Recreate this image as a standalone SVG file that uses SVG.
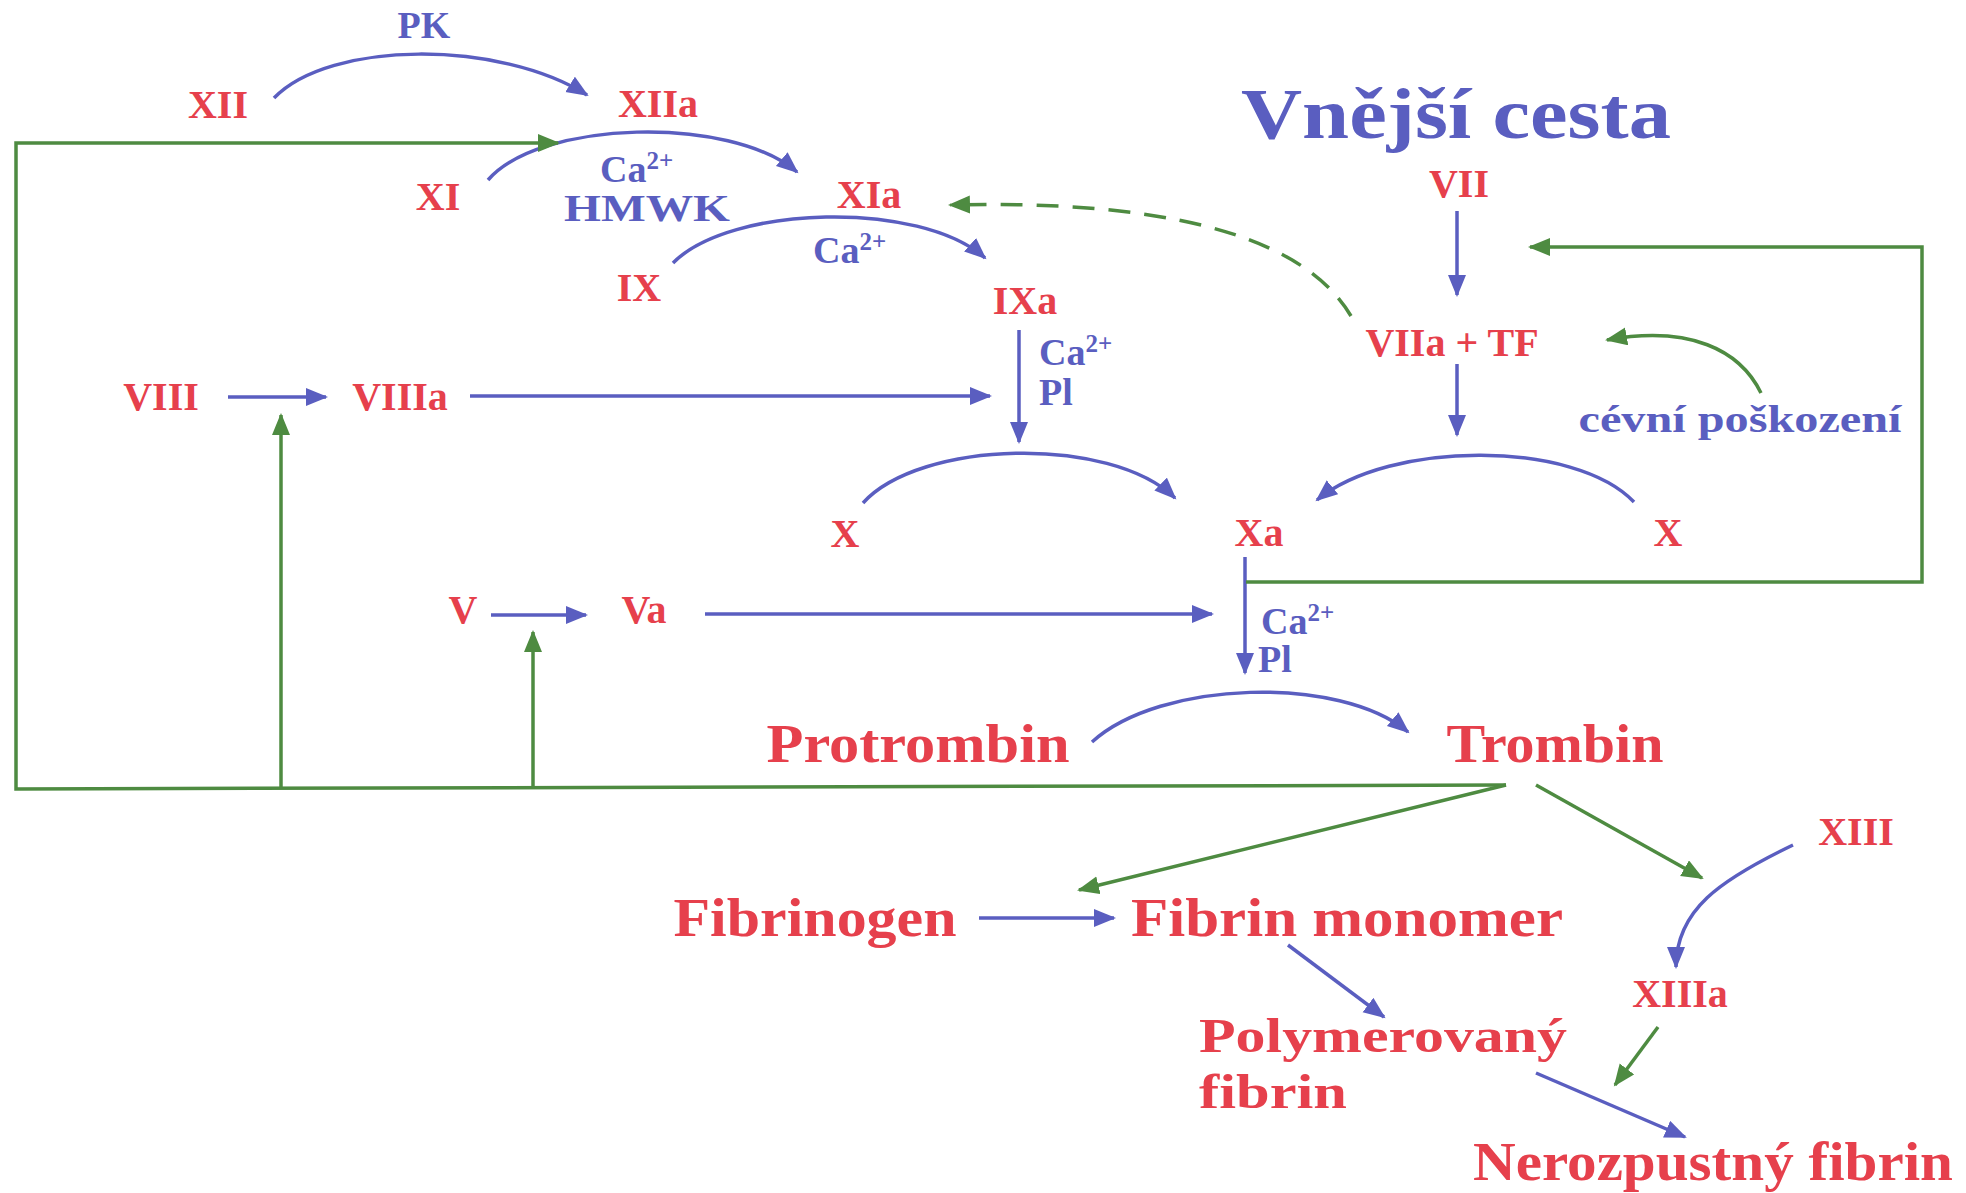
<svg xmlns="http://www.w3.org/2000/svg" width="1966" height="1193" viewBox="0 0 1966 1193">
<defs>
<style>
.r{fill:#e6404c;font-family:"Liberation Serif","Times New Roman",serif;font-weight:bold;font-size:40px;text-anchor:middle}
.rb{fill:#e6404c;font-family:"Liberation Serif","Times New Roman",serif;font-weight:bold;font-size:54px}
.b{fill:#5a5ec0;font-family:"Liberation Serif","Times New Roman",serif;font-weight:bold;font-size:38px}
.sup{font-size:25px}
.bl{fill:none;stroke:#5a5ec0;stroke-width:3.5;marker-end:url(#ab)}
.gl{fill:none;stroke:#4e8b41;stroke-width:3.5}
.ga{marker-end:url(#ag)}
</style>
<marker id="ab" markerUnits="userSpaceOnUse" markerWidth="26" markerHeight="20" refX="20" refY="9" orient="auto">
<path d="M0,0 L22,9 L0,18 Z" fill="#5a5ec0"/>
</marker>
<marker id="ag" markerUnits="userSpaceOnUse" markerWidth="26" markerHeight="20" refX="20" refY="9" orient="auto">
<path d="M0,0 L22,9 L0,18 Z" fill="#4e8b41"/>
</marker>
</defs>
<rect width="1966" height="1193" fill="#ffffff"/>

<g id="connectors">
<path class="bl" d="M274,98 C330,40 500,40 587,95"/>
<path class="bl" d="M488,180 C540,120 730,115 797,172"/>
<path class="bl" d="M673,263 C730,205 920,200 985,258"/>
<path class="bl" d="M863,503 C920,440 1110,435 1175,498"/>
<path class="bl" d="M1634,502 C1575,440 1390,440 1317,500"/>
<path class="bl" d="M1092,742 C1160,680 1340,675 1408,732"/>
<path class="bl" d="M1793,845 C1720,880 1676,910 1676,967"/>
<path class="bl" d="M1457,211 L1457,295"/>
<path class="bl" d="M1457,364 L1457,435"/>
<path class="bl" d="M1019,330 L1019,442"/>
<path class="bl" d="M1245,557 L1245,673"/>
<path class="bl" d="M228,397 L326,397"/>
<path class="bl" d="M470,396 L990,396"/>
<path class="bl" d="M491,615 L586,615"/>
<path class="bl" d="M705,614 L1212,614"/>
<path class="bl" d="M979,918 L1114,918"/>
<path class="bl" d="M1288,945 L1384,1017"/>
<path class="bl" d="M1536,1073 L1685,1137"/>

<path class="gl ga" d="M1506,785 L16,789 L16,143 L558,143"/>
<path class="gl ga" d="M1506,785 L1079,890"/>
<path class="gl ga" d="M281,789 L281,415"/>
<path class="gl ga" d="M533,789 L533,632"/>
<path class="gl ga" d="M1536,785 L1702,878"/>
<path class="gl ga" d="M1658,1027 L1615,1085"/>
<path class="gl ga" d="M1246,582 L1922,582 L1922,247 L1530,247"/>
<path class="gl ga" d="M1761,393 C1740,350 1690,325 1607,340"/>
<path class="gl ga" d="M1351,316 C1300,230 1150,200 950,205" stroke-dasharray="22 14"/>
</g>

<g id="title"><text class="b" x="1456" y="138" style="font-size:72px;text-anchor:middle" textLength="430" lengthAdjust="spacingAndGlyphs">Vnější cesta</text></g>

<g id="n-XII"><text class="r" x="218" y="118">XII</text></g>
<g id="n-XIIa"><text class="r" x="658" y="117">XIIa</text></g>
<g id="n-XI"><text class="r" x="438" y="210">XI</text></g>
<g id="n-XIa"><text class="r" x="869" y="208">XIa</text></g>
<g id="n-IX"><text class="r" x="639" y="301">IX</text></g>
<g id="n-IXa"><text class="r" x="1025" y="314">IXa</text></g>
<g id="n-VIII"><text class="r" x="161" y="410">VIII</text></g>
<g id="n-VIIIa"><text class="r" x="400" y="410">VIIIa</text></g>
<g id="n-X1"><text class="r" x="845" y="547">X</text></g>
<g id="n-Xa"><text class="r" x="1259" y="546">Xa</text></g>
<g id="n-X2"><text class="r" x="1668" y="546">X</text></g>
<g id="n-V"><text class="r" x="463" y="623">V</text></g>
<g id="n-Va"><text class="r" x="644" y="623">Va</text></g>
<g id="n-VII"><text class="r" x="1459" y="197">VII</text></g>
<g id="n-VIIaTF"><text class="r" x="1452" y="356">VIIa + TF</text></g>
<g id="n-XIII"><text class="r" x="1856" y="845">XIII</text></g>
<g id="n-XIIIa"><text class="r" x="1680" y="1007">XIIIa</text></g>

<g id="n-protrombin"><text class="rb" x="918" y="762" style="text-anchor:middle" textLength="303" lengthAdjust="spacingAndGlyphs">Protrombin</text></g>
<g id="n-trombin"><text class="rb" x="1555" y="762" style="text-anchor:middle" textLength="217" lengthAdjust="spacingAndGlyphs">Trombin</text></g>
<g id="n-fibrinogen"><text class="rb" x="815" y="936" style="text-anchor:middle" textLength="283" lengthAdjust="spacingAndGlyphs">Fibrinogen</text></g>
<g id="n-monomer"><text class="rb" x="1347" y="936" style="text-anchor:middle" textLength="432" lengthAdjust="spacingAndGlyphs">Fibrin monomer</text></g>
<g id="n-polymer"><text class="rb" x="1199" y="1052" style="text-anchor:start;font-size:48px" textLength="368" lengthAdjust="spacingAndGlyphs">Polymerovaný</text><text class="rb" x="1199" y="1108" style="text-anchor:start;font-size:48px" textLength="148" lengthAdjust="spacingAndGlyphs">fibrin</text></g>
<g id="n-nerozpustny"><text class="rb" x="1713" y="1180" style="text-anchor:middle" textLength="480" lengthAdjust="spacingAndGlyphs">Nerozpustný fibrin</text></g>

<g id="labels">
<text class="b" x="424" y="38" text-anchor="middle">PK</text>
<text class="b" x="600" y="182">Ca<tspan class="sup" dy="-13">2+</tspan></text>
<text class="b" x="647" y="221" text-anchor="middle" textLength="166" lengthAdjust="spacingAndGlyphs">HMWK</text>
<text class="b" x="813" y="263">Ca<tspan class="sup" dy="-13">2+</tspan></text>
<text class="b" x="1039" y="365">Ca<tspan class="sup" dy="-13">2+</tspan></text>
<text class="b" x="1039" y="405">Pl</text>
<text class="b" x="1261" y="634">Ca<tspan class="sup" dy="-13">2+</tspan></text>
<text class="b" x="1258" y="672">Pl</text>
<text class="b" x="1740" y="432" text-anchor="middle" textLength="323" lengthAdjust="spacingAndGlyphs">cévní poškození</text>
</g>
</svg>
